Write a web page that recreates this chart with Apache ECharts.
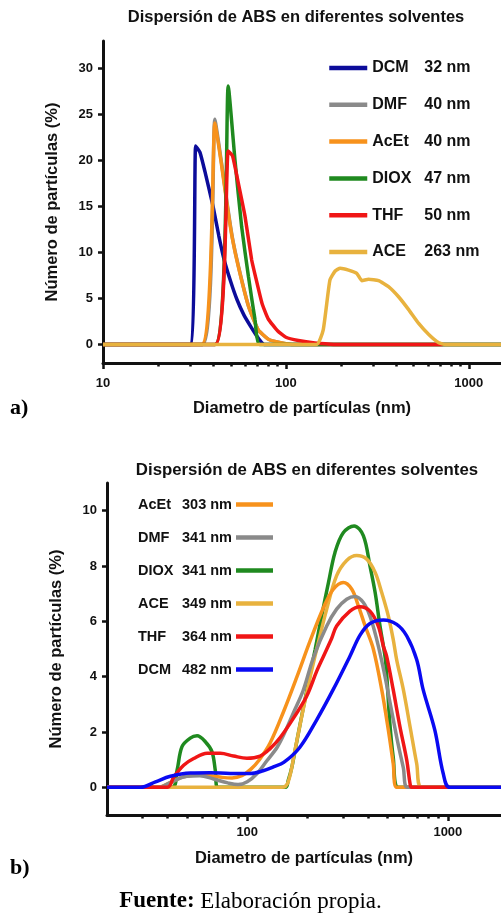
<!DOCTYPE html>
<html>
<head>
<meta charset="utf-8">
<title>Dispersión de ABS en diferentes solventes</title>
<script src="https://cdn.jsdelivr.net/npm/echarts@6/dist/echarts.min.js"></script>
<style>
  html, body { margin: 0; padding: 0; background: #fff; }
  #chart { width: 501px; height: 917px; }
</style>
</head>
<body>
<div id="chart"></div>
<script>
// a) [diámetro (nm), número de partículas (%)]
const dcmA = [[10, 0], [29.9, 0], [32.1, 21.6], [33.9, 20.9], [36.1, 18.8], [40, 15], [43, 11.8], [46, 9.2], [50, 6.8], [54, 4.9], [59, 3.2], [64.5, 1.9], [69, 1], [72.5, 0.4], [76, 0], [1500, 0]]
const dmfA = [[10, 0], [35, 0], [40.9, 24.5], [44.5, 19.7], [48, 15], [51, 11.6], [54.9, 8.6], [62.4, 4.2], [70.6, 1.6], [80, 0.6], [87, 0.35], [100, 0.1], [115, 0], [1500, 0]]
const acetA = [[10, 0], [34.6, 0], [40.9, 24.1], [44.5, 19.5], [48, 14.8], [51, 11.5], [54.9, 8.5], [62.4, 4.2], [70.6, 1.6], [80, 0.6], [87, 0.35], [100, 0.1], [115, 0], [1500, 0]]
const dioxA = [[10, 0], [40.9, 0], [48.4, 28.1], [52.7, 20], [57.3, 12.8], [62.4, 7.4], [67.8, 2.7], [72.2, 0], [1500, 0]]
const thfA = [[10, 0], [40.9, 0], [48.4, 21.05], [51.1, 20.5], [55, 17.5], [59.7, 14], [65, 9.2], [68, 7.5], [74, 4.5], [80, 2.8], [90, 1.5], [100, 0.8], [117, 0.45], [144, 0.18], [175, 0.05], [200, 0], [720, 0]]
const aceA = [[10, 0], [147, 0], [160, 1.6], [174, 7.0], [186, 8.0], [198, 8.3], [220, 8.1], [244, 7.75], [260, 6.95], [283, 7.1], [321, 6.95], [364, 6.3], [413, 5.2], [469, 3.8], [532, 2.3], [604, 1.1], [685, 0.2], [745, 0], [1500, 0]]

// b) [diámetro (nm), número de partículas (%)]
const acetB = [[20, 0], [36, 0], [42, 0.2], [48, 0.38], [56, 0.45], [65, 0.42], [75, 0.36], [84, 0.34], [94, 0.42], [104, 0.65], [115, 1.0], [130, 1.6], [152, 2.75], [177, 4.0], [206, 5.3], [240, 6.5], [268, 7.15], [301, 7.4], [332, 7.16], [358, 6.56], [387, 5.83], [425, 5.0], [468, 3.53], [505, 2.07], [534, 0.86], [556, 0], [1840, 0]]
const dmfB = [[20, 0], [36, 0], [42, 0.2], [50, 0.4], [58, 0.42], [68, 0.3], [80, 0.16], [90, 0.1], [100, 0.2], [112, 0.5], [125, 0.95], [141, 1.45], [152, 1.9], [170, 2.7], [190, 3.5], [214, 4.7], [249, 5.83], [279, 6.44], [313, 6.8], [345, 6.9], [379, 6.68], [409, 6.19], [440, 5.4], [480, 4.2], [520, 2.9], [560, 1.7], [600, 0.7], [630, 0], [1840, 0]]
const dioxB = [[20, 0], [42.2, 0], [44.7, 0.62], [47.3, 1.47], [52, 1.78], [56.2, 1.86], [61.8, 1.65], [66.7, 1.29], [69.3, 0.62], [71.2, 0], [155, 0], [160, 0.25], [167, 0.74], [177, 1.7], [191, 2.93], [218, 4.98], [235, 6.2], [254, 7.4], [274, 8.5], [301, 9.2], [341, 9.45], [379, 9.1], [409, 8.0], [434, 7.04], [459, 5.83], [486, 4.74], [495, 4.13], [514, 2.3], [534, 1.1], [566, 0], [1840, 0]]
const aceB = [[20, 0], [149, 0], [160, 0.2], [173, 1.35], [187, 2.57], [206, 4.0], [222, 5.0], [249, 6.44], [279, 7.65], [313, 8.2], [351, 8.38], [394, 8.25], [434, 7.77], [468, 7.04], [505, 6.19], [534, 5.35], [556, 4.6], [600, 3.53], [648, 2.19], [699, 0.86], [740, 0], [1840, 0]]
const thfB = [[20, 0], [40, 0], [43, 0.37], [48.2, 0.8], [54.1, 1.04], [63.1, 1.23], [73.4, 1.23], [85.5, 1.13], [99.6, 1.05], [116, 1.13], [130, 1.4], [146, 1.8], [170, 2.5], [198, 3.3], [222, 4.2], [240, 4.74], [264, 5.4], [279, 5.83], [325, 6.37], [365, 6.53], [409, 6.37], [450, 5.83], [477, 5.1], [495, 4.74], [534, 3.53], [577, 2.19], [624, 0.98], [648, 0.13], [660, 0], [1000, 0]]
const dcmB = [[20, 0], [29.4, 0], [34.9, 0.2], [41.4, 0.4], [52, 0.52], [65.4, 0.53], [82.3, 0.5], [103.5, 0.5], [120, 0.6], [135, 0.74], [152, 0.9], [183, 1.45], [222, 2.44], [268, 3.53], [325, 4.74], [365, 5.5], [409, 5.92], [477, 6.05], [556, 5.89], [624, 5.47], [699, 4.62], [753, 3.53], [861, 2.07], [948, 0.5], [1023, 0], [1840, 0]]

// etiquetas de la leyenda
const namesA = ['DCM 32 nm', 'DMF 40 nm', 'AcEt 40 nm', 'DIOX 47 nm', 'THF 50 nm', 'ACE 263 nm']
const namesB = ['AcEt 303 nm', 'DMF 341 nm', 'DIOX 341 nm', 'ACE 349 nm', 'THF 364 nm', 'DCM 482 nm']

// marcas de los ejes
const yTicksA = [0, 5, 10, 15, 20, 25, 30]
const yTicksB = [0, 2, 4, 6, 8, 10]
const xMajorA = [10, 100, 1000]
const xMinorA = [20, 30, 40, 50, 60, 70, 80, 90, 200, 300, 400, 500, 600, 700, 800, 900]
const xMajorB = [100, 1000]
const xMinorB = [30, 40, 50, 60, 70, 80, 90, 200, 300, 400, 500, 600, 700, 800, 900]

const titleText = 'Dispersión de ABS en diferentes solventes'
const xName = 'Diametro de partículas (nm)'
const yName = 'Número de partículas (%)'

const sans = '"Liberation Sans", Arial, Helvetica, sans-serif'
const serif = '"Liberation Serif", "Times New Roman", serif'
const ink = '#111'

const colors = {
  navy: '#0c0c9a',
  blue: '#0a0af2',
  gray: '#8a8a8a',
  orange: '#f7921c',
  green: '#1f8a1f',
  red: '#f01616',
  gold: '#e8b23e'
}

function line(name, data, color, idx, z) {
  return {
    name: name,
    type: 'line',
    xAxisIndex: idx * 2,
    yAxisIndex: idx,
    data: data,
    symbol: 'none',
    smooth: idx === 0 ? 0.15 : 0.35,
    z: z,
    lineStyle: { color: color, width: 3.5 },
    itemStyle: { color: color },
    emphasis: { disabled: true }
  }
}

function legendLabel(name) {
  const i = name.indexOf(' ')
  return '{a|' + name.slice(0, i) + '}{b|' + name.slice(i + 1) + '}'
}

function yAxis(grid, min, max, ticks) {
  return {
    gridIndex: grid,
    type: 'value',
    min: min,
    max: max,
    name: yName,
    nameLocation: 'middle',
    nameGap: 42,
    nameTextStyle: { fontFamily: sans, fontWeight: 'bold', fontSize: 16.5, color: ink },
    axisLine: { show: true, onZero: false, lineStyle: { color: ink, width: 3 } },
    axisTick: { show: true, customValues: ticks, length: 5, lineStyle: { color: ink, width: 2.5 } },
    axisLabel: { customValues: ticks, margin: 10, fontFamily: sans, fontWeight: 'bold', fontSize: 13, color: ink },
    splitLine: { show: false }
  }
}

function xAxes(grid, min, max, major, minor, nameGap, labelMargin) {
  return [{
    gridIndex: grid,
    type: 'log',
    min: min,
    max: max,
    name: xName,
    nameLocation: 'middle',
    nameGap: nameGap,
    nameTextStyle: { fontFamily: sans, fontWeight: 'bold', fontSize: 16.5, color: ink },
    axisLine: { show: true, onZero: false, lineStyle: { color: ink, width: 3 } },
    axisTick: { show: true, customValues: major, length: 6, lineStyle: { color: ink, width: 2.5 } },
    axisLabel: {
      customValues: major,
      margin: labelMargin,
      formatter: function (v) { return String(Math.round(v)) },
      fontFamily: sans, fontWeight: 'bold', fontSize: 13, color: ink
    },
    splitLine: { show: false },
    minorTick: { show: false }
  }, {
    // marcas menores
    gridIndex: grid,
    type: 'log',
    min: min,
    max: max,
    position: 'bottom',
    axisLine: { show: false, onZero: false },
    axisTick: { show: true, customValues: minor, length: 3.5, lineStyle: { color: ink, width: 2.5 } },
    axisLabel: { show: false },
    splitLine: { show: false }
  }]
}

const chart = echarts.init(document.getElementById('chart'), null, { renderer: 'canvas' })

const option = {
  animation: false,
  backgroundColor: '#fff',
  title: [{
    text: titleText,
    left: 296,
    top: 9,
    textAlign: 'center',
    padding: 0,
    textStyle: { fontFamily: sans, fontWeight: 'bold', fontSize: 16.5, color: ink }
  }, {
    text: titleText,
    left: 307,
    top: 462,
    textAlign: 'center',
    padding: 0,
    textStyle: { fontFamily: sans, fontWeight: 'bold', fontSize: 16.8, color: ink }
  }],
  legend: [{
    data: namesA,
    orient: 'vertical',
    left: 327,
    top: 60,
    padding: 0,
    itemWidth: 38,
    itemHeight: 14,
    itemGap: 20.8,
    selectedMode: false,
    lineStyle: { width: 4.5 },
    itemStyle: { opacity: 0, borderWidth: 0 },
    formatter: legendLabel,
    textStyle: {
      color: ink,
      rich: {
        a: { width: 52, align: 'left', fontFamily: sans, fontWeight: 'bold', fontSize: 16, color: ink },
        b: { align: 'left', fontFamily: sans, fontWeight: 'bold', fontSize: 16, color: ink }
      }
    }
  }, {
    data: namesB,
    orient: 'vertical',
    align: 'right',
    left: 138,
    top: 497,
    padding: 0,
    itemWidth: 37,
    itemHeight: 14,
    itemGap: 18,
    selectedMode: false,
    lineStyle: { width: 4.5 },
    itemStyle: { opacity: 0, borderWidth: 0 },
    formatter: legendLabel,
    textStyle: {
      color: ink,
      rich: {
        a: { width: 44, align: 'left', fontFamily: sans, fontWeight: 'bold', fontSize: 14.5, color: ink },
        b: { width: 49, align: 'left', fontFamily: sans, fontWeight: 'bold', fontSize: 14.5, color: ink }
      }
    }
  }],
  grid: [
    { left: 103, right: 0, top: 41, bottom: 554 },
    { left: 107, right: 0, top: 483, bottom: 102 }
  ],
  xAxis: [].concat(
    xAxes(0, 10, 1500, xMajorA, xMinorA, 37, 13.5),
    xAxes(1, 20, 1840, xMajorB, xMinorB, 34.5, 11)
  ),
  yAxis: [
    yAxis(0, -2, 33, yTicksA),
    yAxis(1, -1, 11, yTicksB)
  ],
  series: [
    // a) orden de dibujo: ACE encima
    line(namesA[0], dcmA, colors.navy, 0, 2),
    line(namesA[1], dmfA, colors.gray, 0, 3),
    line(namesA[2], acetA, colors.orange, 0, 4),
    line(namesA[3], dioxA, colors.green, 0, 5),
    line(namesA[4], thfA, colors.red, 0, 6),
    line(namesA[5], aceA, colors.gold, 0, 7),
    // b) DCM encima
    line(namesB[2], dioxB, colors.green, 1, 2),
    line(namesB[3], aceB, colors.gold, 1, 3),
    line(namesB[0], acetB, colors.orange, 1, 4),
    line(namesB[1], dmfB, colors.gray, 1, 5),
    line(namesB[4], thfB, colors.red, 1, 6),
    line(namesB[5], dcmB, colors.blue, 1, 7)
  ],
  graphic: [{
    type: 'text',
    left: 10,
    top: 397,
    style: { text: 'a)', font: 'bold 22px ' + serif, fill: '#000' }
  }, {
    type: 'text',
    left: 10,
    top: 857,
    style: { text: 'b)', font: 'bold 22px ' + serif, fill: '#000' }
  }, {
    type: 'text',
    left: 'center',
    top: 890,
    style: {
      text: '{f|Fuente:} Elaboración propia.',
      font: '23px ' + serif,
      fill: '#000',
      rich: { f: { fontFamily: serif, fontWeight: 'bold', fontSize: 23, fill: '#000' } }
    }
  }]
}

chart.setOption(option)
</script>
</body>
</html>
